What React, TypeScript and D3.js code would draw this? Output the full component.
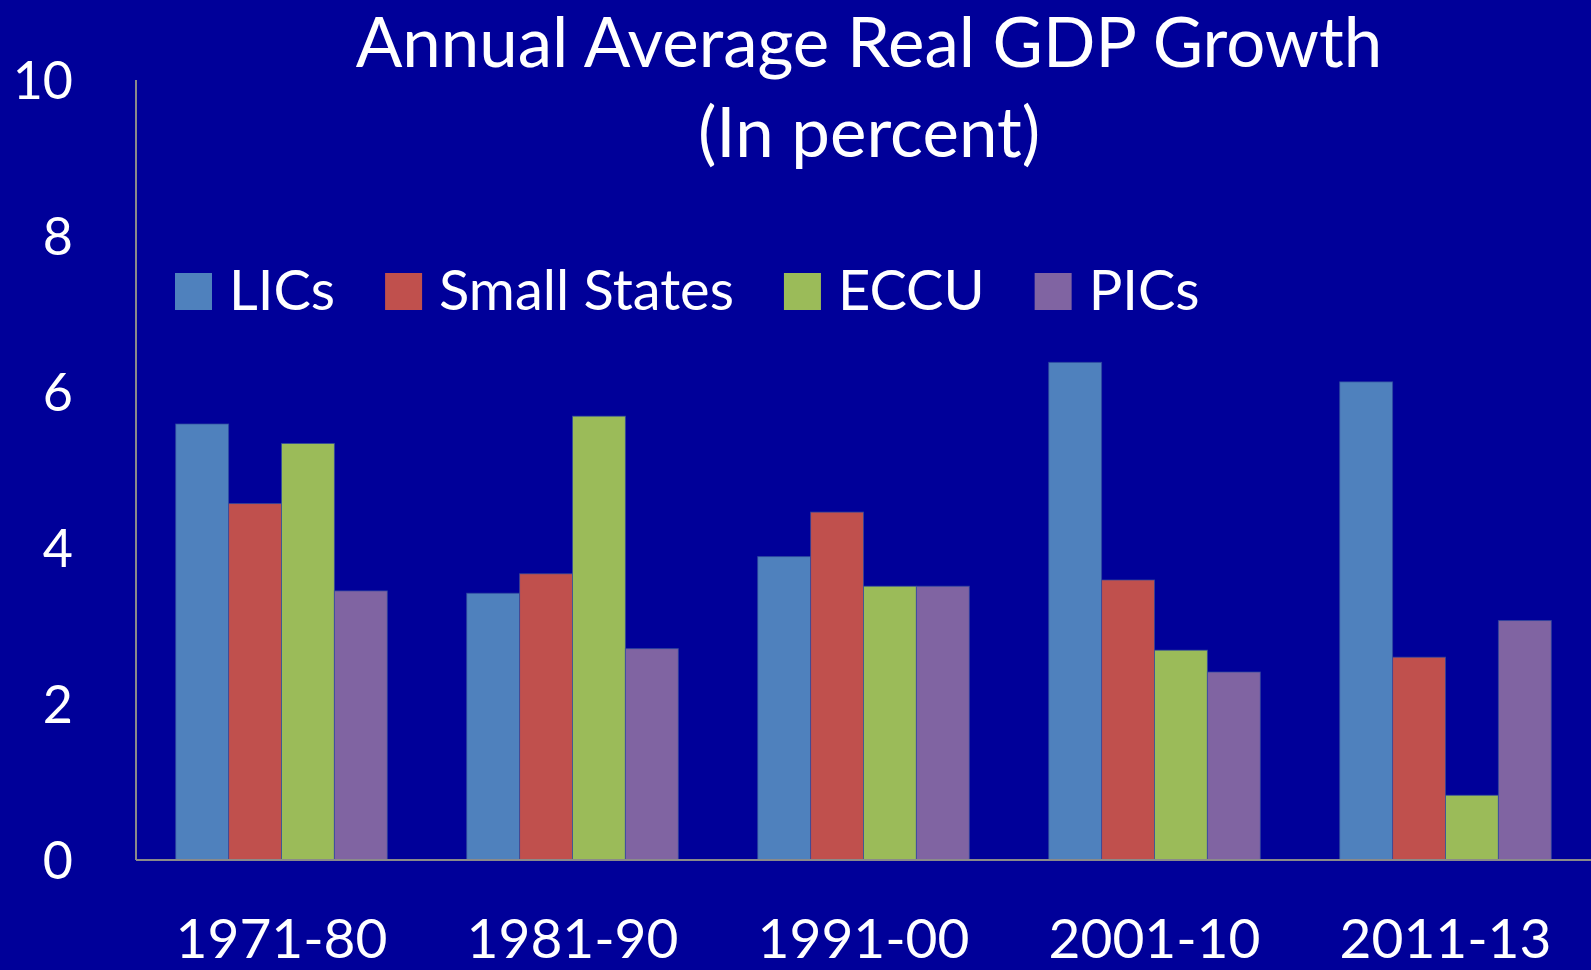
import React from "react";
import * as d3 from "d3";

// periods on the x axis
const periods = ["1971-80", "1981-90", "1991-00", "2001-10", "2011-13"];
// country groups (legend order)
const groups = ["LICs", "Small States", "ECCU", "PICs"];
const colors = ["#4F81BD", "#C0504D", "#9BBB59", "#8064A2"];

// annual average real GDP growth, percent
const lics = [5.59, 3.42, 3.89, 6.38, 6.13];
const smallStates = [4.57, 3.67, 4.46, 3.59, 2.6];
const eccu = [5.34, 5.69, 3.51, 2.69, 0.83];
const pics = [3.45, 2.71, 3.51, 2.41, 3.07];

const yTicks = [0, 2, 4, 6, 8, 10];

const W = 1591;
const H = 970;
const FONT = "Lato, 'Open Sans', sans-serif";

export default function App() {
    const ref = React.useRef<SVGSVGElement>(null);

    React.useEffect(() => {
        document.body.style.margin = "0";
        document.body.style.background = "#000099";
        drawChart();
    }, []);

    function drawChart() {
        const svg = d3.select(ref.current);
        svg.selectAll("*").remove();

        const margin = { top: 80, bottom: 110, left: 136, right: 0 };
        const series = [lics, smallStates, eccu, pics];

        svg.append("rect")
            .attr("width", W)
            .attr("height", H)
            .attr("fill", "#000099");

        // x scales: outer per period, inner per group
        const x0 = d3
            .scaleBand()
            .domain(periods)
            .range([margin.left, W - margin.right])
            .padding(0);
        const x1 = d3
            .scaleBand()
            .domain(groups)
            .range([0, x0.bandwidth()])
            .paddingInner(0)
            .paddingOuter(0.75);

        const y = d3
            .scaleLinear()
            .domain([0, 10])
            .range([H - margin.bottom, margin.top]);

        // bars
        groups.forEach((g, gi) => {
            svg.append("g")
                .selectAll("rect")
                .data(series[gi])
                .join("rect")
                .attr("x", (d, i) => x0(periods[i]) + x1(g))
                .attr("y", (d) => y(d))
                .attr("width", x1.bandwidth())
                .attr("height", (d) => y(0) - y(d))
                .attr("fill", colors[gi])
                .attr("stroke", "#2f4a9e")
                .attr("stroke-opacity", 0.7)
                .attr("stroke-width", 1);
        });

        // axes lines
        svg.append("line")
            .attr("x1", margin.left)
            .attr("x2", margin.left)
            .attr("y1", y(10))
            .attr("y2", y(0))
            .attr("stroke", "#8a8a8a")
            .attr("stroke-width", 2);
        svg.append("line")
            .attr("x1", margin.left)
            .attr("x2", W)
            .attr("y1", y(0))
            .attr("y2", y(0))
            .attr("stroke", "#8a8a8a")
            .attr("stroke-width", 2);

        // y tick labels
        svg.append("g")
            .selectAll("text")
            .data(yTicks)
            .join("text")
            .attr("x", 73)
            .attr("y", (d) => y(d))
            .attr("dy", "0.36em")
            .attr("text-anchor", "end")
            .attr("fill", "#ffffff")
            .attr("font-family", FONT)
            .attr("font-size", 52)
            .text((d) => d);

        // x tick labels
        svg.append("g")
            .selectAll("text")
            .data(periods)
            .join("text")
            .attr("x", (d) => x0(d) + x0.bandwidth() / 2)
            .attr("y", 958)
            .attr("text-anchor", "middle")
            .attr("fill", "#ffffff")
            .attr("font-family", FONT)
            .attr("font-size", 55)
            .text((d) => d);

        // title
        const title = svg
            .append("text")
            .attr("text-anchor", "middle")
            .attr("fill", "#ffffff")
            .attr("font-family", FONT)
            .attr("font-size", 69);
        title.append("tspan").attr("x", 869).attr("y", 67).text("Annual Average Real GDP Growth");
        title.append("tspan").attr("x", 869).attr("y", 157).text("(In percent)");

        // legend
        const legend = svg.append("g");
        let lx = 175;
        groups.forEach((g, gi) => {
            legend.append("rect")
                .attr("x", lx)
                .attr("y", 273)
                .attr("width", 37)
                .attr("height", 37)
                .attr("fill", colors[gi]);
            const t = legend
                .append("text")
                .attr("x", lx + 54)
                .attr("y", 310)
                .attr("fill", "#ffffff")
                .attr("font-family", FONT)
                .attr("font-size", 56)
                .text(g);
            const tw = (t.node() as SVGTextElement).getComputedTextLength();
            lx = lx + 54 + tw + 50;
        });
    }

    return <svg ref={ref} width={W} height={H} style={{ display: "block" }} />;
}
